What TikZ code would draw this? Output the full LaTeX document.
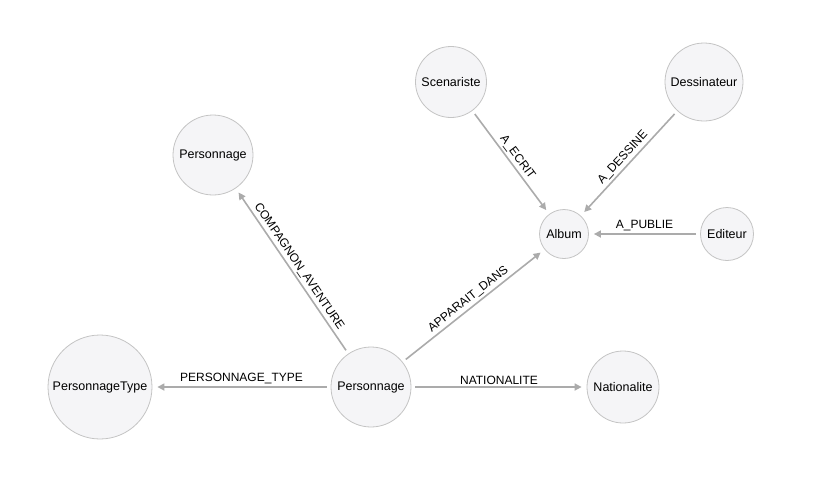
\documentclass[tikz,border=0pt]{standalone}
\usepackage{fontspec}
\setmainfont{Liberation Sans}
\usetikzlibrary{arrows.meta}

\definecolor{nodefill}{HTML}{F5F5F7}
\definecolor{nodeline}{HTML}{C4C4C4}
\definecolor{edgeline}{HTML}{ABABAB}

\begin{document}
\begin{tikzpicture}[x=1pt, y=-1pt,
    entity/.style={circle, draw=nodeline, fill=nodefill, line width=0.8pt,
        inner sep=0pt, font=\fontsize{12.5}{15}\selectfont},
    rel/.style={draw=edgeline, line width=1.6pt,
        -{Triangle[length=7pt, width=7pt]}, shorten >=5pt, shorten <=4pt},
    lbl/.style={midway, sloped, above, inner sep=2pt, text=black,
        font=\fontsize{12}{14}\selectfont}]
    \useasboundingbox (0,0) rectangle (816,483);

    % Nodes
    \node[entity, minimum size=71pt] (scen) at (451,82) {Scenariste};
    \node[entity, minimum size=78pt] (dess) at (704,82) {Dessinateur};
    \node[entity, minimum size=80pt] (perstop) at (213,155) {Personnage};
    \node[entity, minimum size=49pt] (album) at (564,234) {Album};
    \node[entity, minimum size=53pt] (edit) at (727,234) {Editeur};
    \node[entity, minimum size=104pt] (ptype) at (100,387) {PersonnageType};
    \node[entity, minimum size=80pt] (pers) at (371,387) {Personnage};
    \node[entity, minimum size=72pt] (nat) at (623,387) {Nationalite};

    % Relations
    \draw[rel] (scen) -- (album) node[lbl] {A\_ECRIT};
    \draw[rel] (dess) -- (album) node[lbl] {A\_DESSINE};
    \draw[rel] (edit) -- (album) node[lbl] {A\_PUBLIE};
    \draw[rel] (pers) -- (perstop) node[lbl] {COMPAGNON\_AVENTURE};
    \draw[rel] (pers) -- (album) node[lbl] {APPARAIT\_DANS};
    \draw[rel] (pers) -- (ptype) node[lbl] {PERSONNAGE\_TYPE};
    \draw[rel] (pers) -- (nat) node[lbl] {NATIONALITE};
\end{tikzpicture}
\end{document}
